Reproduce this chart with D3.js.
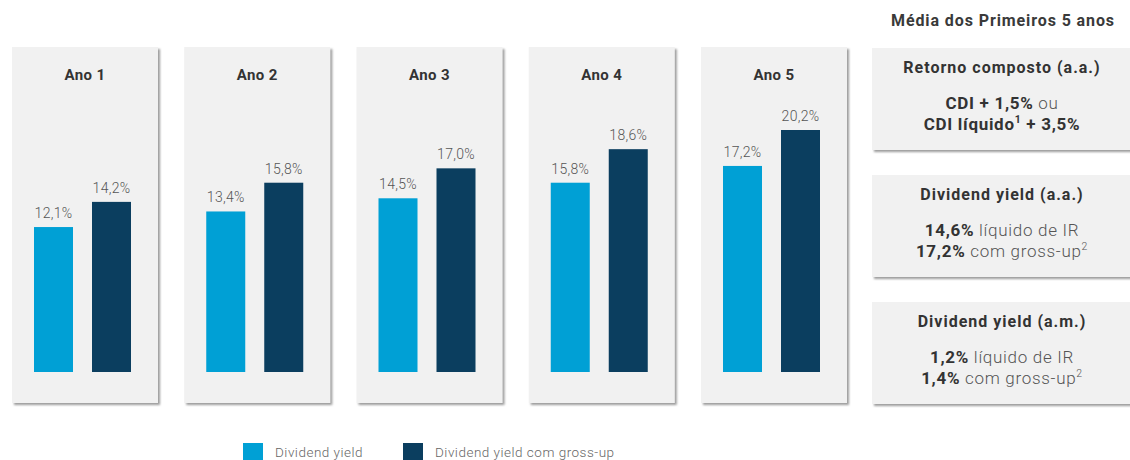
<!DOCTYPE html>
<html>
<head>
<meta charset="utf-8">
<script src="https://cdn.jsdelivr.net/npm/d3@7"></script>
<style>
  html, body { margin: 0; padding: 0; background: #ffffff; }
  svg { display: block; font-family: Roboto, "Noto Sans", sans-serif; }
</style>
</head>
<body>
<svg id="chart" width="1130" height="460"></svg>
<script>
// Yearly dividend yields (% a.a.)
const years = ["Ano 1", "Ano 2", "Ano 3", "Ano 4", "Ano 5"];
const seriesNames = ["Dividend yield", "Dividend yield com gross-up"];
const dividendYield = [12.1, 13.4, 14.5, 15.8, 17.2];
const dividendYieldGrossUp = [14.2, 15.8, 17.0, 18.6, 20.2];
const seriesColors = ["#00a0d5", "#0b3e5f"];

// Summary cards on the right
const summaryTitle = "Média dos Primeiros 5 anos";
const summaryCards = [
  { title: "Retorno composto (a.a.)",
    lines: [
      [{ t: "CDI + 1,5%", b: true }, { t: " ou", b: false }],
      [{ t: "CDI líquido", b: true }, { t: "1", b: true, sup: true }, { t: " + 3,5%", b: true }]
    ] },
  { title: "Dividend yield (a.a.)",
    lines: [
      [{ t: "14,6%", b: true }, { t: " líquido de IR", b: false }],
      [{ t: "17,2%", b: true }, { t: " com gross-up", b: false }, { t: "2", b: false, sup: true }]
    ] },
  { title: "Dividend yield (a.m.)",
    lines: [
      [{ t: "1,2%", b: true }, { t: " líquido de IR", b: false }],
      [{ t: "1,4%", b: true }, { t: " com gross-up", b: false }, { t: "2", b: false, sup: true }]
    ] }
];

const fmt = v => d3.format(".1f")(v).replace(".", ",") + "%";

const svg = d3.select("#chart");

// soft shadow for the cards
const defs = svg.append("defs");
const f = defs.append("filter").attr("id", "shadow")
  .attr("x", "-5%").attr("y", "-5%").attr("width", "115%").attr("height", "115%");
f.append("feDropShadow").attr("dx", 2).attr("dy", 2).attr("stdDeviation", 1.2)
  .attr("flood-color", "#7a7a7a").attr("flood-opacity", 0.75);

// scales
const xYear = d3.scaleBand().domain(years).range([12, 847]).paddingInner(0.1524).paddingOuter(0);
const xSeries = d3.scaleBand().domain(seriesNames).range([22, 119]).paddingInner(0.3276).paddingOuter(0);
const y = d3.scaleLinear().domain([0, 20]).range([372, 132.4]);

const panelTop = 47, panelBottom = 403;

const rows = years.map((yr, i) => ({
  year: yr,
  values: [
    { name: seriesNames[0], value: dividendYield[i] },
    { name: seriesNames[1], value: dividendYieldGrossUp[i] }
  ]
}));

const panels = svg.selectAll("g.panel").data(rows).join("g")
  .attr("class", "panel")
  .attr("transform", d => `translate(${xYear(d.year)},0)`);

panels.append("rect")
  .attr("x", 0).attr("y", panelTop)
  .attr("width", xYear.bandwidth()).attr("height", panelBottom - panelTop)
  .attr("fill", "#f1f1f1")
  .attr("filter", "url(#shadow)");

panels.append("text")
  .attr("x", xYear.bandwidth() / 2).attr("y", 80)
  .attr("text-anchor", "middle")
  .attr("font-size", 15).attr("font-weight", 700).attr("fill", "#333333")
  .attr("letter-spacing", 0.4)
  .text(d => d.year);

const bars = panels.selectAll("g.bar").data(d => d.values).join("g").attr("class", "bar");

bars.append("rect")
  .attr("x", d => xSeries(d.name))
  .attr("y", d => y(d.value))
  .attr("width", xSeries.bandwidth())
  .attr("height", d => y(0) - y(d.value))
  .attr("fill", (d, i) => seriesColors[i]);

bars.append("text")
  .attr("x", d => xSeries(d.name) + xSeries.bandwidth() / 2)
  .attr("y", d => y(d.value) - 9)
  .attr("text-anchor", "middle")
  .attr("font-size", 14).attr("font-weight", 300).attr("fill", "#555555")
  .attr("letter-spacing", 0.3)
  .text(d => fmt(d.value));

// summary column
svg.append("text")
  .attr("x", 1003).attr("y", 26)
  .attr("text-anchor", "middle")
  .attr("font-size", 16).attr("font-weight", 700).attr("fill", "#3a3a3a")
  .attr("letter-spacing", 0.9)
  .text(summaryTitle);

const cardTops = [48, 175, 302];
const cardH = 102;
const cards = svg.selectAll("g.card").data(summaryCards).join("g")
  .attr("class", "card")
  .attr("transform", (d, i) => `translate(872,${cardTops[i]})`);

cards.append("rect")
  .attr("x", 0).attr("y", 0).attr("width", 270).attr("height", cardH)
  .attr("fill", "#f1f1f1").attr("filter", "url(#shadow)");

cards.append("text")
  .attr("x", 130).attr("y", 25)
  .attr("text-anchor", "middle")
  .attr("font-size", 16).attr("font-weight", 700).attr("fill", "#333333")
  .attr("letter-spacing", 1)
  .text(d => d.title);

cards.each(function(d) {
  const g = d3.select(this);
  d.lines.forEach((line, li) => {
    const t = g.append("text")
      .attr("x", 130).attr("y", 61 + li * 21)
      .attr("text-anchor", "middle")
      .attr("font-size", 17).attr("fill", "#333333")
      .attr("letter-spacing", 0.7);
    line.forEach(seg => {
      const ts = t.append("tspan")
        .attr("font-weight", seg.b ? 700 : 300)
        .attr("fill", seg.b ? "#333333" : "#555555")
        .text(seg.t);
      if (seg.sup) ts.attr("font-size", 10.5).attr("baseline-shift", "60%");
    });
  });
});

// legend
const legendX = [243, 403];
const legend = svg.selectAll("g.legend").data(seriesNames).join("g")
  .attr("class", "legend")
  .attr("transform", (d, i) => `translate(${legendX[i]},443)`);
legend.append("rect")
  .attr("width", 20).attr("height", 18)
  .attr("fill", (d, i) => seriesColors[i]);
legend.append("text")
  .attr("x", 32).attr("y", 13.5)
  .attr("font-size", 13.5).attr("font-weight", 300).attr("fill", "#666666")
  .attr("letter-spacing", 0.5)
  .text(d => d);
</script>
</body>
</html>
